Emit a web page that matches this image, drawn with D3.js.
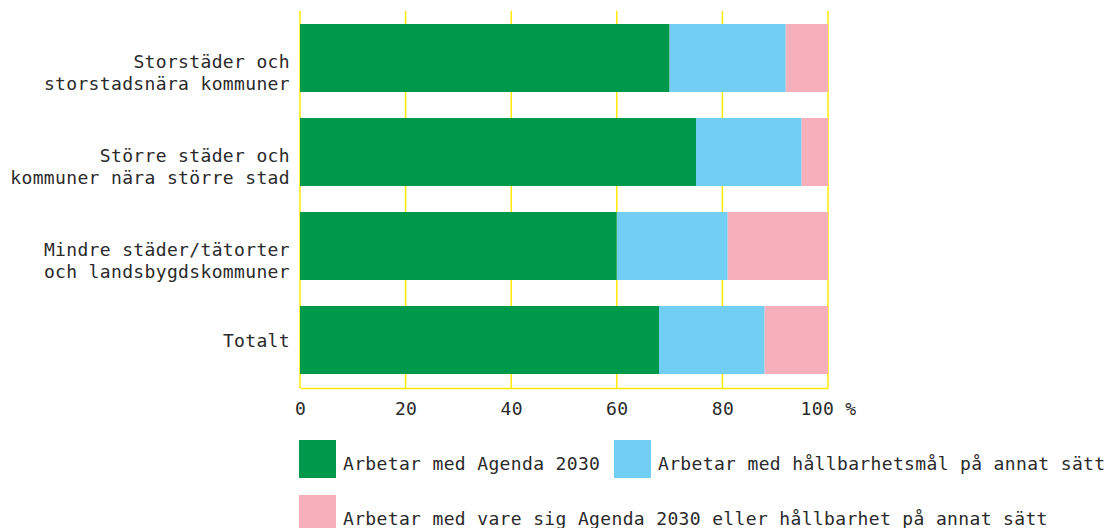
<!DOCTYPE html>
<html>
<head>
<meta charset="utf-8">
<script src="https://cdn.jsdelivr.net/npm/d3@7"></script>
<style>
  body { margin: 0; background: #fff; }
  svg text { font-family: "DejaVu Sans Mono", "Liberation Mono", monospace; font-size: 18px; letter-spacing: 0.35px; fill: #2a2a2a; }
</style>
</head>
<body>
<div id="chart"></div>
<script>
// categories (each label split into lines)
var categories = [
  ["Storstäder och", "storstadsnära kommuner"],
  ["Större städer och", "kommuner nära större stad"],
  ["Mindre städer/tätorter", "och landsbygdskommuner"],
  ["Totalt"]
];
var seriesNames = [
  "Arbetar med Agenda 2030",
  "Arbetar med hållbarhetsmål på annat sätt",
  "Arbetar med vare sig Agenda 2030 eller hållbarhet på annat sätt"
];
var agenda = [70, 75, 60, 68];
var otherWay = [22, 20, 21, 20];
var neither = [8, 5, 19, 12];
var tickValues = [0, 20, 40, 60, 80, 100];
var colors = ["#00984a", "#72cef2", "#f6afbb"];

var svgWidth = 1105;
var svgHeight = 528;

var svg = d3.select("#chart")
  .append("svg")
  .attr("width", svgWidth)
  .attr("height", svgHeight);

// build a table for the stack
var table = categories.map(function(c, i) {
  return { key: i, s0: agenda[i], s1: otherWay[i], s2: neither[i] };
});
var stack = d3.stack().keys(["s0", "s1", "s2"]);
var stacked = stack(table);

var xScale = d3.scaleLinear()
  .domain([0, 100])
  .range([300, 828]);

var yScale = d3.scaleBand()
  .domain(d3.range(categories.length))
  .range([11, 387])
  .paddingInner(0.2766)
  .paddingOuter(0.1383);

var yellow = "#ffea00";

// gridlines
svg.append("g")
  .selectAll("line")
  .data(tickValues)
  .enter()
  .append("line")
  .attr("x1", d => xScale(d))
  .attr("x2", d => xScale(d))
  .attr("y1", 11)
  .attr("y2", 388)
  .attr("stroke", yellow)
  .attr("stroke-width", 1.5);

// bars
svg.append("g")
  .selectAll("g")
  .data(stacked)
  .enter()
  .append("g")
  .attr("fill", (d, i) => colors[i])
  .selectAll("rect")
  .data(d => d)
  .enter()
  .append("rect")
  .attr("x", d => xScale(d[0]))
  .attr("width", d => xScale(d[1]) - xScale(d[0]))
  .attr("y", d => yScale(d.data.key))
  .attr("height", yScale.bandwidth());

// bottom axis
var bottomAxis = d3.axisBottom(xScale)
  .tickValues(tickValues)
  .tickSize(0)
  .tickPadding(16)
  .tickFormat(d => d === 100 ? "100 %" : d);

var xAxis = svg.append("g")
  .attr("transform", "translate(0, 388)")
  .call(bottomAxis);
xAxis.select(".domain").attr("stroke", yellow).attr("stroke-width", 1.5);
xAxis.selectAll("text")
  .attr("font-family", null)
  .attr("font-size", null)
  .attr("fill", null)
  .attr("dy", null)
  .attr("y", 27);

// category labels
var labels = svg.append("g")
  .selectAll("text")
  .data(categories)
  .enter()
  .append("text")
  .attr("text-anchor", "end")
  .attr("x", 290)
  .attr("y", (d, i) => yScale(i) + yScale.bandwidth() / 2 + (d.length > 1 ? 10 : 7));

labels.selectAll("tspan")
  .data(d => d)
  .enter()
  .append("tspan")
  .attr("x", 290)
  .attr("dy", (d, i) => i === 0 ? 0 : 22)
  .text(d => d);

// legend
var legend = svg.append("g");
var legendPos = [
  { x: 299, y: 440 },
  { x: 614, y: 440 },
  { x: 299, y: 495 }
];
seriesNames.forEach(function(name, i) {
  var item = legend.append("g")
    .attr("transform", `translate(${legendPos[i].x}, ${legendPos[i].y})`);
  item.append("rect")
    .attr("width", 37)
    .attr("height", 38)
    .attr("fill", colors[i]);
  item.append("text")
    .attr("x", 44)
    .attr("y", 30)
    .text(name);
});
</script>
</body>
</html>
